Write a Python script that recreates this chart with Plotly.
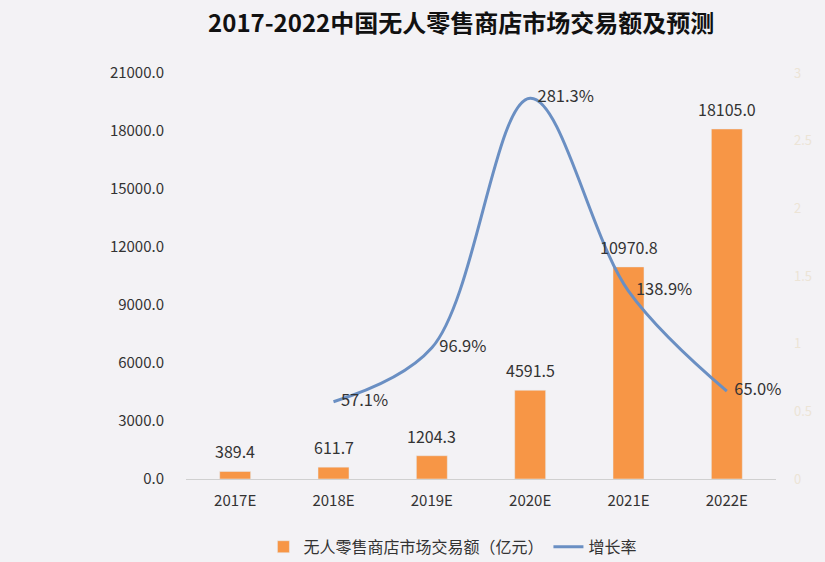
import plotly.graph_objects as go

# данные
years = ["2017E", "2018E", "2019E", "2020E", "2021E", "2022E"]
amount = [389.4, 611.7, 1204.3, 4591.5, 10970.8, 18105.0]
growth_years = ["2018E", "2019E", "2020E", "2021E", "2022E"]
growth = [0.571, 0.969, 2.813, 1.389, 0.650]

FONT = "Noto Sans CJK SC, Microsoft YaHei, sans-serif"
BG = "#f3f2f5"

fig = go.Figure()

fig.add_trace(go.Bar(
    x=years, y=amount,
    name="无人零售商店市场交易额（亿元）",
    marker_color="#f79646",
))

fig.add_trace(go.Scatter(
    x=growth_years, y=growth,
    name="增长率",
    mode="lines+text",
    line=dict(color="#6a8fc3", width=3, shape="spline", smoothing=1.0),
    text=[f"\u00a0\u00a0{v*100:.1f}%" for v in growth],
    textposition="middle right",
    textfont=dict(size=16.5, color="#333333"),
    yaxis="y2",
    cliponaxis=False,
))

# подписи над столбцами
for yr, v in zip(years, amount):
    fig.add_annotation(
        x=yr, y=v, text=f"{v:.1f}", showarrow=False,
        yanchor="middle", yshift=20,
        font=dict(size=16, color="#333333"),
    )

fig.update_layout(
    width=825, height=562,
    paper_bgcolor=BG, plot_bgcolor=BG,
    margin=dict(l=186, r=49, t=73, b=83, autoexpand=False),
    font=dict(family=FONT, size=14, color="#333333"),
    title=dict(
        text="<b>2017-2022中国无人零售商店市场交易额及预测</b>",
        x=0.559, xanchor="center", y=0.958, yanchor="middle",
        font=dict(size=24, color="#111111", family=FONT),
    ),
    bargap=0.685,
    showlegend=True,
    legend=dict(
        orientation="h", xref="container", yref="container",
        x=0.549, xanchor="center", y=0.027, yanchor="middle",
        font=dict(size=16, color="#333333"),
        bgcolor="rgba(0,0,0,0)",
    ),
    xaxis=dict(
        showgrid=False, showline=True, linecolor="#d0d0d0", linewidth=1,
        ticks="", tickfont=dict(size=15, color="#333333"), ticklabelstandoff=8,
        automargin=False,
    ),
    yaxis=dict(
        range=[0, 21000], dtick=3000, tickformat=".1f",
        showgrid=False, zeroline=False, ticks="",
        tickfont=dict(size=15, color="#333333"), ticklabelstandoff=21,
        automargin=False,
    ),
    yaxis2=dict(
        range=[0, 3], dtick=0.5, overlaying="y", side="right",
        showgrid=False, zeroline=False, ticks="",
        tickfont=dict(size=13, color="#ece4d6"), ticklabelstandoff=17,
        automargin=False,
    ),
)

# убираем отступ body, чтобы график стоял в углу окна
fig.write_html("out.html", config={"displayModeBar": False},
               post_script="document.body.style.margin='0';")
